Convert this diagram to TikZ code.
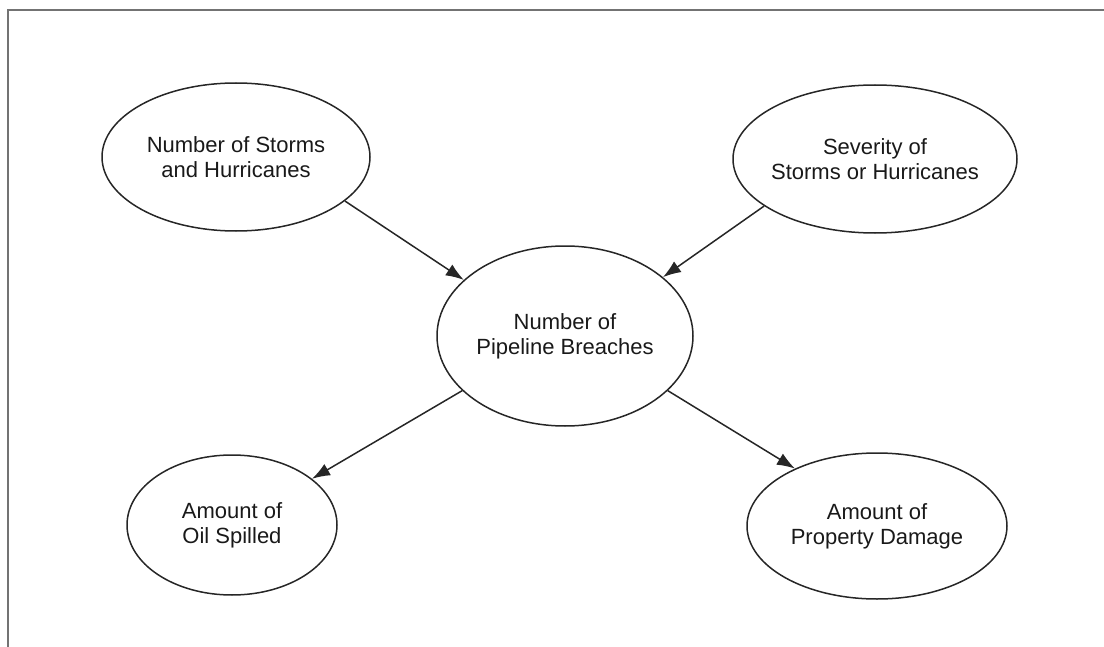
\documentclass[tikz,border=0pt]{standalone}
\usepackage{fontspec}
\setmainfont{Liberation Sans}
\usetikzlibrary{shapes.geometric,arrows.meta}
\begin{document}
\begin{tikzpicture}[x=0.5pt,y=-0.5pt,
  bubble/.style={ellipse, draw=black!85, line width=0.75pt, inner sep=0pt},
  txt/.style={align=center, font=\fontsize{11}{12.5}\selectfont, text=black!90},
  link/.style={draw=black!85, line width=0.75pt, -{Latex[length=9pt,width=6.5pt]}}]
\useasboundingbox (0,0) rectangle (1104,647);
% open frame along the top and left
\draw[black!55, line width=1pt] (7.5,647) -- (7.5,10.5) -- (1104,10.5);

\node[bubble, minimum width=134pt, minimum height=74pt,
  label={[txt]center:Number of Storms\\and Hurricanes}] (storms) at (236,157) {};
\node[bubble, minimum width=142pt, minimum height=74pt,
  label={[txt]center:Severity of\\Storms or Hurricanes}] (severity) at (875,159) {};
\node[bubble, minimum width=128pt, minimum height=90pt,
  label={[txt]center:Number of\\Pipeline Breaches}] (breach) at (565,336) {};
\node[bubble, minimum width=105pt, minimum height=70pt,
  label={[txt]center:Amount of\\Oil Spilled}] (oil) at (232,525) {};
\node[bubble, minimum width=130pt, minimum height=73pt,
  label={[txt]center:Amount of\\Property Damage}] (damage) at (877,526) {};

\draw[link] (storms.-22) -- (breach.151.5);
\draw[link] (severity.203.6) -- (breach.31.9);
\draw[link] (breach.208.3) -- (oil.30.7);
\draw[link] (breach.-28.5) -- (damage.145);
\end{tikzpicture}
\end{document}
